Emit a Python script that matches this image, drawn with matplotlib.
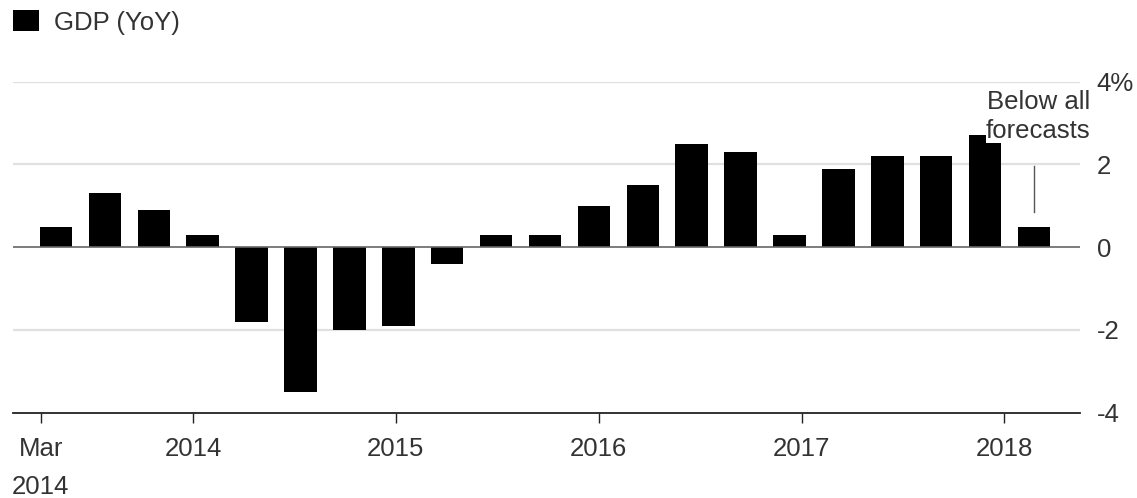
import numpy as np
import matplotlib
matplotlib.use("Agg")
import matplotlib.pyplot as plt

# quarterly GDP growth, YoY %
gdp = [0.5, 1.3, 0.9, 0.3, -1.8, -3.5, -2.0, -1.9, -0.4, 0.3, 0.3,
       1.0, 1.5, 2.5, 2.3, 0.3, 1.9, 2.2, 2.2, 2.7, 0.5]
xtick_labels = ["Mar\n2014", "2014", "2015", "2016", "2017", "2018"]
xtick_pos = [-0.31, 2.81, 6.95, 11.1, 15.25, 19.39]
yticks = [-4, -2, 0, 2, 4]
ytick_labels = ["-4", "-2", "0", "2", "4%"]
note = "Below all\nforecasts"

plt.rcParams['font.family'] = ['Liberation Sans', 'DejaVu Sans']
plt.rcParams['axes.unicode_minus'] = False
fs = 18.5
txt = '#333333'


def main():
    fig = plt.figure(figsize=(11.37, 4.98), dpi=100)
    ax = fig.add_axes([13 / 1137, 1 - 412.7 / 498, (1080 - 13) / 1137, (412.7 - 81.7) / 498])

    x = np.arange(len(gdp))
    ax.bar(x, gdp, width=0.665, color='black', zorder=3, label='GDP (YoY)')

    ax.set_xlim(-0.879, 20.94)
    ax.set_ylim(-4, 4)

    # gridlines
    for v in yticks:
        if v == -4:
            continue
        if v == 0:
            ax.axhline(v, color='#666666', lw=1.2, zorder=4)
        else:
            ax.axhline(v, color='#e0e0e0', lw=1.6, zorder=1)

    for s in ['top', 'right', 'left']:
        ax.spines[s].set_visible(False)
    ax.spines['bottom'].set_color('#222222')
    ax.spines['bottom'].set_linewidth(1.3)

    ax.set_xticks(xtick_pos)
    ax.set_xticklabels(xtick_labels, fontsize=fs, color=txt, linespacing=1.75)
    ax.tick_params(axis='x', length=7.5, width=1, color='#222222', pad=10)

    ax.yaxis.tick_right()
    ax.set_yticks(yticks)
    ax.set_yticklabels(ytick_labels, fontsize=fs, color=txt)
    ax.tick_params(axis='y', length=0, pad=12)

    # annotation for last quarter
    last = len(gdp) - 1
    ax.plot([last, last], [0.86, 1.96], color='#555555', lw=1, zorder=5)
    ax.text(21.15, 2.53, note, ha='right', va='bottom', multialignment='right',
            fontsize=fs, color=txt, zorder=6, clip_on=False, linespacing=1.25,
            bbox=dict(facecolor='white', edgecolor='none', pad=0))

    fig.legend(loc='upper left', bbox_to_anchor=(13 / 1137, 1 - 10 / 498),
               frameon=False, fontsize=fs, handlelength=1.0, handleheight=0.9,
               handletextpad=0.6, borderpad=0, borderaxespad=0, labelcolor=txt)

    fig.savefig('out.png', dpi=100)


if __name__ == '__main__':
    main()
